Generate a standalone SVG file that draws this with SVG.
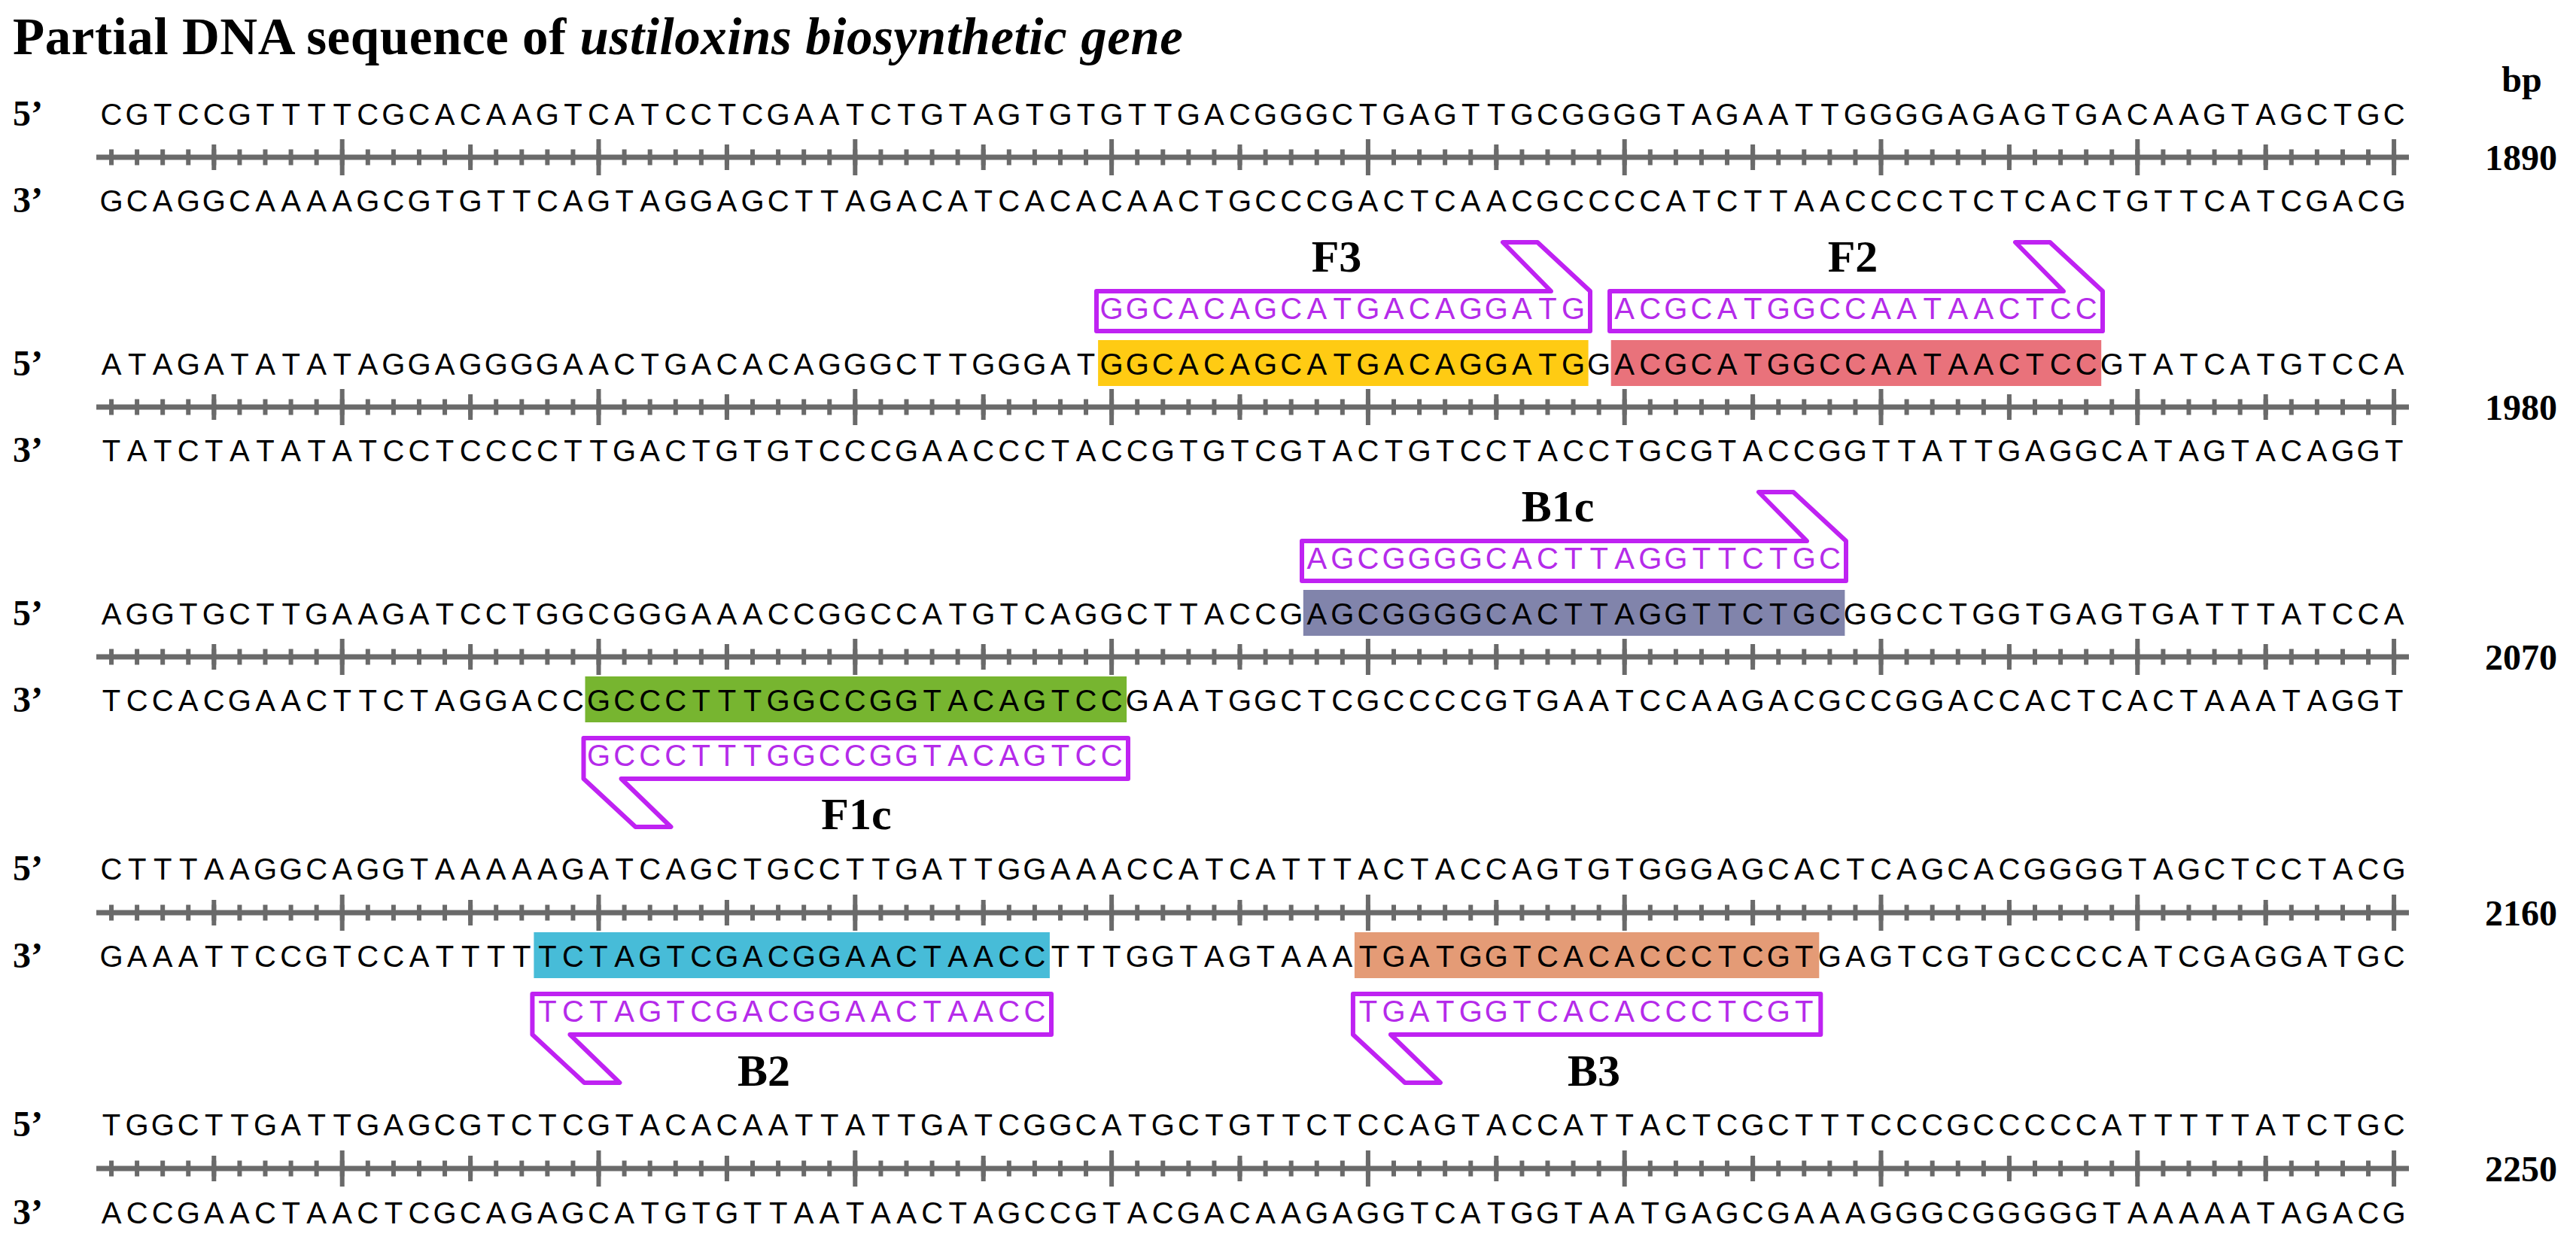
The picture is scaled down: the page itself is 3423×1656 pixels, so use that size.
<svg xmlns="http://www.w3.org/2000/svg" xmlns:xlink="http://www.w3.org/1999/xlink" width="3423" height="1656" viewBox="0 0 3423 1656">
<style>
.title{font-family:"Liberation Serif","Times New Roman",serif;font-weight:bold;font-size:69px;fill:#000}
.end{font-family:"Liberation Serif","Times New Roman",serif;font-weight:bold;font-size:48px;fill:#000}
.num{font-family:"Liberation Serif","Times New Roman",serif;font-weight:bold;font-size:48px;fill:#000;text-anchor:middle}
.lab{font-family:"Liberation Serif","Times New Roman",serif;font-weight:bold;font-size:60px;fill:#000;text-anchor:middle}
.seq{font-family:"Liberation Sans",Arial,sans-serif;font-size:40px;fill:#000;text-anchor:middle}
.pseq{font-family:"Liberation Sans",Arial,sans-serif;font-size:40px;fill:#B52BEA;text-anchor:middle}
.box{fill:#fff;stroke:#BF22F2;stroke-width:6;stroke-linejoin:round}
</style>
<defs>
<g id="ruler">
<line x1="128" y1="0" x2="3201" y2="0" stroke="#6a6a6a" stroke-width="7"/>
<line x1="145" y1="0" x2="3185" y2="0" stroke="#6a6a6a" stroke-width="21" stroke-dasharray="6 28.08"/>
<line x1="281.3" y1="0" x2="3185" y2="0" stroke="#6a6a6a" stroke-width="34" stroke-dasharray="6 334.8"/>
<line x1="451.7" y1="0" x2="3185" y2="0" stroke="#6a6a6a" stroke-width="48" stroke-dasharray="6 334.8"/>
</g>
</defs>
<rect width="3423" height="1656" fill="#fff"/>
<text class="title" x="17" y="72" textLength="1555" lengthAdjust="spacing">Partial DNA sequence of <tspan font-style="italic">ustiloxins biosynthetic gene</tspan></text>
<text class="num" x="3351" y="122">bp</text>

<g id="block1">
<text class="end" x="17" y="167">5’</text>
<text class="end" x="17" y="282">3’</text>
<use xlink:href="#ruler" href="#ruler" y="209"/>
<text class="num" x="3350" y="226">1890</text>
<text class="seq" y="166" x="148 182.1 216.2 250.2 284.3 318.4 352.5 386.6 420.6 454.7 488.8 522.9 557 591 625.1 659.2 693.3 727.4 761.4 795.5 829.6 863.7 897.8 931.8 965.9 1000 1034.1 1068.2 1102.2 1136.3 1170.4 1204.5 1238.6 1272.6 1306.7 1340.8 1374.9 1409 1443 1477.1 1511.2 1545.3 1579.4 1613.4 1647.5 1681.6 1715.7 1749.8 1783.8 1817.9 1852 1886.1 1920.2 1954.2 1988.3 2022.4 2056.5 2090.6 2124.6 2158.7 2192.8 2226.9 2261 2295 2329.1 2363.2 2397.3 2431.4 2465.4 2499.5 2533.6 2567.7 2601.8 2635.8 2669.9 2704 2738.1 2772.2 2806.2 2840.3 2874.4 2908.5 2942.6 2976.6 3010.7 3044.8 3078.9 3113 3147 3181.1">CGTCCGTTTTCGCACAAGTCATCCTCGAATCTGTAGTGTGTTGACGGGCTGAGTTGCGGGGTAGAATTGGGGAGAGTGACAAGTAGCTGC</text>
<text class="seq" y="281" x="148 182.1 216.2 250.2 284.3 318.4 352.5 386.6 420.6 454.7 488.8 522.9 557 591 625.1 659.2 693.3 727.4 761.4 795.5 829.6 863.7 897.8 931.8 965.9 1000 1034.1 1068.2 1102.2 1136.3 1170.4 1204.5 1238.6 1272.6 1306.7 1340.8 1374.9 1409 1443 1477.1 1511.2 1545.3 1579.4 1613.4 1647.5 1681.6 1715.7 1749.8 1783.8 1817.9 1852 1886.1 1920.2 1954.2 1988.3 2022.4 2056.5 2090.6 2124.6 2158.7 2192.8 2226.9 2261 2295 2329.1 2363.2 2397.3 2431.4 2465.4 2499.5 2533.6 2567.7 2601.8 2635.8 2669.9 2704 2738.1 2772.2 2806.2 2840.3 2874.4 2908.5 2942.6 2976.6 3010.7 3044.8 3078.9 3113 3147 3181.1">GCAGGCAAAAGCGTGTTCAGTAGGAGCTTAGACATCACACAACTGCCCGACTCAACGCCCCATCTTAACCCCTCTCACTGTTCATCGACG</text>
</g>

<g id="block2">
<text class="end" x="17" y="499">5’</text>
<text class="end" x="17" y="614">3’</text>
<use xlink:href="#ruler" href="#ruler" y="541"/>
<text class="num" x="3350" y="558">1980</text>
<rect x="1459.1" y="452" width="651.5" height="61" fill="#FFCB13"/>
<rect x="2140.7" y="452" width="651.5" height="61" fill="#E9727B"/>
<text class="seq" y="498" x="148 182.1 216.2 250.2 284.3 318.4 352.5 386.6 420.6 454.7 488.8 522.9 557 591 625.1 659.2 693.3 727.4 761.4 795.5 829.6 863.7 897.8 931.8 965.9 1000 1034.1 1068.2 1102.2 1136.3 1170.4 1204.5 1238.6 1272.6 1306.7 1340.8 1374.9 1409 1443 1477.1 1511.2 1545.3 1579.4 1613.4 1647.5 1681.6 1715.7 1749.8 1783.8 1817.9 1852 1886.1 1920.2 1954.2 1988.3 2022.4 2056.5 2090.6 2124.6 2158.7 2192.8 2226.9 2261 2295 2329.1 2363.2 2397.3 2431.4 2465.4 2499.5 2533.6 2567.7 2601.8 2635.8 2669.9 2704 2738.1 2772.2 2806.2 2840.3 2874.4 2908.5 2942.6 2976.6 3010.7 3044.8 3078.9 3113 3147 3181.1">ATAGATATATAGGAGGGGAACTGACACAGGGCTTGGGATGGCACAGCATGACAGGATGGACGCATGGCCAATAACTCCGTATCATGTCCA</text>
<text class="seq" y="613" x="148 182.1 216.2 250.2 284.3 318.4 352.5 386.6 420.6 454.7 488.8 522.9 557 591 625.1 659.2 693.3 727.4 761.4 795.5 829.6 863.7 897.8 931.8 965.9 1000 1034.1 1068.2 1102.2 1136.3 1170.4 1204.5 1238.6 1272.6 1306.7 1340.8 1374.9 1409 1443 1477.1 1511.2 1545.3 1579.4 1613.4 1647.5 1681.6 1715.7 1749.8 1783.8 1817.9 1852 1886.1 1920.2 1954.2 1988.3 2022.4 2056.5 2090.6 2124.6 2158.7 2192.8 2226.9 2261 2295 2329.1 2363.2 2397.3 2431.4 2465.4 2499.5 2533.6 2567.7 2601.8 2635.8 2669.9 2704 2738.1 2772.2 2806.2 2840.3 2874.4 2908.5 2942.6 2976.6 3010.7 3044.8 3078.9 3113 3147 3181.1">TATCTATATATCCTCCCCTTGACTGTGTCCCGAACCCTACCGTGTCGTACTGTCCTACCTGCGTACCGGTTATTGAGGCATAGTACAGGT</text>
</g>

<g id="block3">
<text class="end" x="17" y="831">5’</text>
<text class="end" x="17" y="946">3’</text>
<use xlink:href="#ruler" href="#ruler" y="873"/>
<text class="num" x="3350" y="890">2070</text>
<rect x="1731.8" y="784" width="719.6" height="61" fill="#8184AB"/>
<rect x="777.5" y="899" width="719.6" height="61" fill="#77B530"/>
<text class="seq" y="830" x="148 182.1 216.2 250.2 284.3 318.4 352.5 386.6 420.6 454.7 488.8 522.9 557 591 625.1 659.2 693.3 727.4 761.4 795.5 829.6 863.7 897.8 931.8 965.9 1000 1034.1 1068.2 1102.2 1136.3 1170.4 1204.5 1238.6 1272.6 1306.7 1340.8 1374.9 1409 1443 1477.1 1511.2 1545.3 1579.4 1613.4 1647.5 1681.6 1715.7 1749.8 1783.8 1817.9 1852 1886.1 1920.2 1954.2 1988.3 2022.4 2056.5 2090.6 2124.6 2158.7 2192.8 2226.9 2261 2295 2329.1 2363.2 2397.3 2431.4 2465.4 2499.5 2533.6 2567.7 2601.8 2635.8 2669.9 2704 2738.1 2772.2 2806.2 2840.3 2874.4 2908.5 2942.6 2976.6 3010.7 3044.8 3078.9 3113 3147 3181.1">AGGTGCTTGAAGATCCTGGCGGGAAACCGGCCATGTCAGGCTTACCGAGCGGGGCACTTAGGTTCTGCGGCCTGGTGAGTGATTTATCCA</text>
<text class="seq" y="945" x="148 182.1 216.2 250.2 284.3 318.4 352.5 386.6 420.6 454.7 488.8 522.9 557 591 625.1 659.2 693.3 727.4 761.4 795.5 829.6 863.7 897.8 931.8 965.9 1000 1034.1 1068.2 1102.2 1136.3 1170.4 1204.5 1238.6 1272.6 1306.7 1340.8 1374.9 1409 1443 1477.1 1511.2 1545.3 1579.4 1613.4 1647.5 1681.6 1715.7 1749.8 1783.8 1817.9 1852 1886.1 1920.2 1954.2 1988.3 2022.4 2056.5 2090.6 2124.6 2158.7 2192.8 2226.9 2261 2295 2329.1 2363.2 2397.3 2431.4 2465.4 2499.5 2533.6 2567.7 2601.8 2635.8 2669.9 2704 2738.1 2772.2 2806.2 2840.3 2874.4 2908.5 2942.6 2976.6 3010.7 3044.8 3078.9 3113 3147 3181.1">TCCACGAACTTCTAGGACCGCCCTTTGGCCGGTACAGTCCGAATGGCTCGCCCCGTGAATCCAAGACGCCGGACCACTCACTAAATAGGT</text>
</g>

<g id="block4">
<text class="end" x="17" y="1170">5’</text>
<text class="end" x="17" y="1286">3’</text>
<use xlink:href="#ruler" href="#ruler" y="1213"/>
<text class="num" x="3350" y="1230">2160</text>
<rect x="709.4" y="1239" width="685.5" height="61" fill="#47BCD8"/>
<rect x="1799.9" y="1239" width="617.4" height="61" fill="#E49B76"/>
<text class="seq" y="1169" x="148 182.1 216.2 250.2 284.3 318.4 352.5 386.6 420.6 454.7 488.8 522.9 557 591 625.1 659.2 693.3 727.4 761.4 795.5 829.6 863.7 897.8 931.8 965.9 1000 1034.1 1068.2 1102.2 1136.3 1170.4 1204.5 1238.6 1272.6 1306.7 1340.8 1374.9 1409 1443 1477.1 1511.2 1545.3 1579.4 1613.4 1647.5 1681.6 1715.7 1749.8 1783.8 1817.9 1852 1886.1 1920.2 1954.2 1988.3 2022.4 2056.5 2090.6 2124.6 2158.7 2192.8 2226.9 2261 2295 2329.1 2363.2 2397.3 2431.4 2465.4 2499.5 2533.6 2567.7 2601.8 2635.8 2669.9 2704 2738.1 2772.2 2806.2 2840.3 2874.4 2908.5 2942.6 2976.6 3010.7 3044.8 3078.9 3113 3147 3181.1">CTTTAAGGCAGGTAAAAAGATCAGCTGCCTTGATTGGAAACCATCATTTACTACCAGTGTGGGAGCACTCAGCACGGGGTAGCTCCTACG</text>
<text class="seq" y="1285" x="148 182.1 216.2 250.2 284.3 318.4 352.5 386.6 420.6 454.7 488.8 522.9 557 591 625.1 659.2 693.3 727.4 761.4 795.5 829.6 863.7 897.8 931.8 965.9 1000 1034.1 1068.2 1102.2 1136.3 1170.4 1204.5 1238.6 1272.6 1306.7 1340.8 1374.9 1409 1443 1477.1 1511.2 1545.3 1579.4 1613.4 1647.5 1681.6 1715.7 1749.8 1783.8 1817.9 1852 1886.1 1920.2 1954.2 1988.3 2022.4 2056.5 2090.6 2124.6 2158.7 2192.8 2226.9 2261 2295 2329.1 2363.2 2397.3 2431.4 2465.4 2499.5 2533.6 2567.7 2601.8 2635.8 2669.9 2704 2738.1 2772.2 2806.2 2840.3 2874.4 2908.5 2942.6 2976.6 3010.7 3044.8 3078.9 3113 3147 3181.1">GAAATTCCGTCCATTTTTCTAGTCGACGGAACTAACCTTTGGTAGTAAATGATGGTCACACCCTCGTGAGTCGTGCCCCATCGAGGATGC</text>
</g>

<g id="block5">
<text class="end" x="17" y="1510">5’</text>
<text class="end" x="17" y="1627">3’</text>
<use xlink:href="#ruler" href="#ruler" y="1553"/>
<text class="num" x="3350" y="1570">2250</text>
<text class="seq" y="1509" x="148 182.1 216.2 250.2 284.3 318.4 352.5 386.6 420.6 454.7 488.8 522.9 557 591 625.1 659.2 693.3 727.4 761.4 795.5 829.6 863.7 897.8 931.8 965.9 1000 1034.1 1068.2 1102.2 1136.3 1170.4 1204.5 1238.6 1272.6 1306.7 1340.8 1374.9 1409 1443 1477.1 1511.2 1545.3 1579.4 1613.4 1647.5 1681.6 1715.7 1749.8 1783.8 1817.9 1852 1886.1 1920.2 1954.2 1988.3 2022.4 2056.5 2090.6 2124.6 2158.7 2192.8 2226.9 2261 2295 2329.1 2363.2 2397.3 2431.4 2465.4 2499.5 2533.6 2567.7 2601.8 2635.8 2669.9 2704 2738.1 2772.2 2806.2 2840.3 2874.4 2908.5 2942.6 2976.6 3010.7 3044.8 3078.9 3113 3147 3181.1">TGGCTTGATTGAGCGTCTCGTACACAATTATTGATCGGCATGCTGTTCTCCAGTACCATTACTCGCTTTCCCGCCCCCATTTTTATCTGC</text>
<text class="seq" y="1626" x="148 182.1 216.2 250.2 284.3 318.4 352.5 386.6 420.6 454.7 488.8 522.9 557 591 625.1 659.2 693.3 727.4 761.4 795.5 829.6 863.7 897.8 931.8 965.9 1000 1034.1 1068.2 1102.2 1136.3 1170.4 1204.5 1238.6 1272.6 1306.7 1340.8 1374.9 1409 1443 1477.1 1511.2 1545.3 1579.4 1613.4 1647.5 1681.6 1715.7 1749.8 1783.8 1817.9 1852 1886.1 1920.2 1954.2 1988.3 2022.4 2056.5 2090.6 2124.6 2158.7 2192.8 2226.9 2261 2295 2329.1 2363.2 2397.3 2431.4 2465.4 2499.5 2533.6 2567.7 2601.8 2635.8 2669.9 2704 2738.1 2772.2 2806.2 2840.3 2874.4 2908.5 2942.6 2976.6 3010.7 3044.8 3078.9 3113 3147 3181.1">ACCGAACTAACTCGCAGAGCATGTGTTAATAACTAGCCGTACGACAAGAGGTCATGGTAATGAGCGAAAGGGCGGGGGTAAAAATAGACG</text>
</g>

<g id="primer-F3">
<polygon class="box" points="1457,387 2061,387 1997,322 2043,322 2113,387 2113,440 1457,440"/>
<text class="pseq" y="424" x="1477.1 1511.2 1545.3 1579.4 1613.4 1647.5 1681.6 1715.7 1749.8 1783.8 1817.9 1852 1886.1 1920.2 1954.2 1988.3 2022.4 2056.5 2090.6">GGCACAGCATGACAGGATG</text>
<text class="lab" x="1776" y="361">F3</text>
</g>
<g id="primer-F2">
<polygon class="box" points="2139,387 2742,387 2678,322 2724,322 2794,387 2794,440 2139,440"/>
<text class="pseq" y="424" x="2158.7 2192.8 2226.9 2261 2295 2329.1 2363.2 2397.3 2431.4 2465.4 2499.5 2533.6 2567.7 2601.8 2635.8 2669.9 2704 2738.1 2772.2">ACGCATGGCCAATAACTCC</text>
<text class="lab" x="2462" y="361">F2</text>
</g>
<g id="primer-B1c">
<polygon class="box" points="1730,719 2401,719 2337,654 2383,654 2453,719 2453,772 1730,772"/>
<text class="pseq" y="756" x="1749.8 1783.8 1817.9 1852 1886.1 1920.2 1954.2 1988.3 2022.4 2056.5 2090.6 2124.6 2158.7 2192.8 2226.9 2261 2295 2329.1 2363.2 2397.3 2431.4">AGCGGGGCACTTAGGTTCTGC</text>
<text class="lab" x="2070" y="693">B1c</text>
</g>
<g id="primer-F1c">
<polygon class="box" points="775.5,981 1499,981 1499,1035 825.5,1035 891.5,1099 844.5,1099 775.5,1035"/>
<text class="pseq" y="1018" x="795.5 829.6 863.7 897.8 931.8 965.9 1000 1034.1 1068.2 1102.2 1136.3 1170.4 1204.5 1238.6 1272.6 1306.7 1340.8 1374.9 1409 1443 1477.1">GCCCTTTGGCCGGTACAGTCC</text>
<text class="lab" x="1138" y="1102">F1c</text>
</g>
<g id="primer-B2">
<polygon class="box" points="707.4,1321 1397,1321 1397,1375 757.4,1375 823.4,1439 776.4,1439 707.4,1375"/>
<text class="pseq" y="1358" x="727.4 761.4 795.5 829.6 863.7 897.8 931.8 965.9 1000 1034.1 1068.2 1102.2 1136.3 1170.4 1204.5 1238.6 1272.6 1306.7 1340.8 1374.9">TCTAGTCGACGGAACTAACC</text>
<text class="lab" x="1015" y="1443">B2</text>
</g>
<g id="primer-B3">
<polygon class="box" points="1797.9,1321 2419.3,1321 2419.3,1375 1847.9,1375 1913.9,1439 1866.9,1439 1797.9,1375"/>
<text class="pseq" y="1358" x="1817.9 1852 1886.1 1920.2 1954.2 1988.3 2022.4 2056.5 2090.6 2124.6 2158.7 2192.8 2226.9 2261 2295 2329.1 2363.2 2397.3">TGATGGTCACACCCTCGT</text>
<text class="lab" x="2118" y="1443">B3</text>
</g>
<g id="connectors"></g>
</svg>
